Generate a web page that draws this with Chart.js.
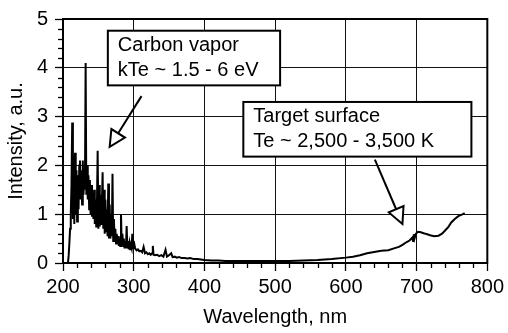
<!DOCTYPE html>
<html>
<head>
<meta charset="utf-8">
<script src="https://cdn.jsdelivr.net/npm/chart.js@4.4.1/dist/chart.umd.min.js"></script>
<style>
  html, body { margin: 0; padding: 0; background: #fff; }
  #wrap { width: 508px; height: 333px; }
</style>
</head>
<body>
<div id="wrap"><canvas id="c" width="508" height="333"></canvas></div>
<script>
// Emission spectrum: wavelength (nm) and intensity (a.u.)
const wavelength = [
  207,208,209,210,211,212,213,214,215,216,217,218,219,220,221,222,223,224,225,226,
  227,228,229,230,231,232,233,234,235,236,237,238,239,240,241,242,243,244,245,246,
  247,248,249,250,251,252,253,254,255,256,257,258,259,260,261,262,263,264,265,266,
  267,268,269,270,271,272,273,274,275,276,277,278,279,280,281,282,283,284,285,286,
  287,288,289,290,291,292,293,294,295,296,297,298,299,300,
  302,304,306,308,310,312,314,316,318,320,322,324,326,327,328,330,333,336,339,342,
  345,347,350,353,355,358,361,364,368,372,376,380,385,390,395,400,410,420,430,440,
  460,480,500,520,540,560,580,600,610,620,630,642,650,660,668,675,680,686,690,694,
  695,696,697,699,702,706,710,715,719,725,731,736,740,745,749,754,759,764,768
];
const intensity = [
  0.00,0.15,0.40,0.70,1.00,1.60,2.88,0.90,2.20,0.80,2.26,1.00,1.90,0.85,1.80,1.10,2.00,2.10,1.30,1.90,
  1.20,2.10,1.40,1.90,1.50,4.10,1.40,2.00,1.30,1.80,1.10,1.70,1.00,1.60,0.95,1.40,0.90,1.50,0.80,1.30,
  0.75,1.20,2.30,0.70,1.60,0.75,1.40,0.80,1.20,1.86,0.70,1.50,0.60,1.30,0.65,1.10,0.55,1.63,0.50,1.20,
  0.50,1.00,0.55,1.83,0.45,0.90,0.45,0.70,0.40,0.60,0.40,0.55,0.35,0.50,0.35,1.00,0.40,0.60,0.35,0.50,
  0.30,0.45,0.30,0.76,0.30,0.45,0.28,0.40,0.28,0.35,0.30,0.60,0.30,0.45,
  0.30,0.26,0.28,0.24,0.25,0.22,0.33,0.20,0.22,0.18,0.20,0.17,0.20,0.35,0.17,0.16,0.17,0.14,0.16,0.13,
  0.27,0.13,0.16,0.20,0.12,0.13,0.11,0.12,0.10,0.10,0.09,0.10,0.08,0.08,0.07,0.06,0.05,0.05,0.04,0.04,
  0.04,0.04,0.04,0.04,0.05,0.06,0.08,0.11,0.13,0.16,0.20,0.23,0.25,0.26,0.30,0.33,0.37,0.43,0.46,0.52,
  0.45,0.59,0.50,0.60,0.64,0.63,0.61,0.59,0.57,0.55,0.56,0.60,0.66,0.74,0.83,0.90,0.96,0.99,1.02
];
const xTickLabels = [200, 300, 400, 500, 600, 700, 800];
const yTickLabels = [0, 1, 2, 3, 4, 5];
const xMinorStep = 20;
const yMinorStep = 0.2;

// Callout boxes with hollow-headed arrows, placed in data units
const callouts = [
  { lines: ['Carbon vapor', 'kTe ~ 1.5 - 6 eV'], x0: 263.4, x1: 507, yTop: 4.76, yBot: 3.64,
    from: [311, 3.42], to: [266, 2.38] },
  { lines: ['Target surface', 'Te ~ 2,500 - 3,500 K'], x0: 455, x1: 777.5, yTop: 3.30, yBot: 2.18,
    from: [641, 2.12], to: [680, 0.80] }
];

const FONT = "'Liberation Sans', Arial, Helvetica, sans-serif";

const points = wavelength.map((w, i) => ({ x: w, y: intensity[i] }));

const framePlugin = {
  id: 'frame',
  afterDatasetsDraw(chart) {
    const { ctx, chartArea: a, scales: { x, y } } = chart;
    ctx.save();
    ctx.strokeStyle = '#000';
    ctx.lineWidth = 1.3;
    // minor ticks, outside the frame
    for (let v = x.min; v <= x.max + 1e-6; v += xMinorStep) {
      if (Math.abs(v % 100) < 1e-6) continue;
      const px = Math.round(x.getPixelForValue(v)) + 0.5;
      ctx.beginPath(); ctx.moveTo(px, a.bottom); ctx.lineTo(px, a.bottom + 5); ctx.stroke();
    }
    for (let v = y.min; v <= y.max + 1e-6; v += yMinorStep) {
      const r = v - Math.round(v);
      if (Math.abs(r) < 1e-6) continue;
      const py = Math.round(y.getPixelForValue(v)) + 0.5;
      ctx.beginPath(); ctx.moveTo(a.left - 5, py); ctx.lineTo(a.left, py); ctx.stroke();
    }
    // plot frame
    ctx.lineWidth = 2;
    ctx.strokeRect(a.left, a.top, a.right - a.left, a.bottom - a.top);
    ctx.restore();
  },
  afterDraw(chart) {
    const { ctx, scales: { x, y } } = chart;
    ctx.save();
    ctx.lineWidth = 2;
    ctx.strokeStyle = '#000';
    ctx.lineJoin = 'miter';
    callouts.forEach(c => {
      // arrow shaft + hollow triangular head
      const sx = x.getPixelForValue(c.from[0]), sy = y.getPixelForValue(c.from[1]);
      const tx = x.getPixelForValue(c.to[0]), ty = y.getPixelForValue(c.to[1]);
      const ang = Math.atan2(ty - sy, tx - sx);
      const headLen = 16, headHalf = 8;
      const bx = tx - headLen * Math.cos(ang), by = ty - headLen * Math.sin(ang);
      ctx.beginPath(); ctx.moveTo(sx, sy); ctx.lineTo(bx, by); ctx.stroke();
      const nx = -Math.sin(ang), ny = Math.cos(ang);
      ctx.beginPath();
      ctx.moveTo(tx, ty);
      ctx.lineTo(bx + nx * headHalf, by + ny * headHalf);
      ctx.lineTo(bx - nx * headHalf, by - ny * headHalf);
      ctx.closePath();
      ctx.fillStyle = '#fff';
      ctx.fill();
      ctx.stroke();
      // label box
      const l = x.getPixelForValue(c.x0), r = x.getPixelForValue(c.x1);
      const t = y.getPixelForValue(c.yTop), b = y.getPixelForValue(c.yBot);
      ctx.fillStyle = '#fff';
      ctx.fillRect(l, t, r - l, b - t);
      ctx.strokeRect(l, t, r - l, b - t);
      ctx.fillStyle = '#000';
      ctx.font = '20px ' + FONT;
      ctx.textBaseline = 'alphabetic';
      ctx.textAlign = 'left';
      c.lines.forEach((s, i) => ctx.fillText(s, l + 10, t + 20 + i * 25));
    });
    ctx.restore();
  }
};

new Chart(document.getElementById('c'), {
  type: 'line',
  data: {
    datasets: [{
      data: points,
      borderColor: '#000',
      borderWidth: 2,
      pointRadius: 0,
      tension: 0,
      fill: false
    }]
  },
  options: {
    responsive: false,
    animation: false,
    parsing: true,
    layout: { padding: { top: 13, right: 19, left: 0, bottom: 0 } },
    plugins: { legend: { display: false }, tooltip: { enabled: false } },
    scales: {
      x: {
        type: 'linear',
        min: 200, max: 800,
        afterBuildTicks: s => { s.ticks = xTickLabels.map(v => ({ value: v })); },
        afterFit: s => { s.height = 70; },
        grid: { color: '#111', lineWidth: 1, tickLength: 8, tickColor: '#000', tickWidth: 1.3 },
        border: { display: true, color: '#000', width: 2 },
        ticks: { color: '#000', font: { family: FONT, size: 20 }, padding: 4, maxRotation: 0 },
        title: { display: true, text: 'Wavelength, nm', color: '#000',
                 font: { family: FONT, size: 20 }, padding: { top: 0, bottom: 4 } }
      },
      y: {
        min: 0, max: 5,
        afterBuildTicks: s => { s.ticks = yTickLabels.map(v => ({ value: v })); },
        afterFit: s => { s.width = 63; },
        grid: { color: '#111', lineWidth: 1, tickLength: 8, tickColor: '#000', tickWidth: 1.3 },
        border: { display: true, color: '#000', width: 2 },
        ticks: { color: '#000', font: { family: FONT, size: 20 }, padding: 7 },
        title: { display: true, text: 'Intensity, a.u.', color: '#000',
                 font: { family: FONT, size: 20 }, padding: { top: 4, bottom: 0 } }
      }
    }
  },
  plugins: [framePlugin]
});
</script>
</body>
</html>
